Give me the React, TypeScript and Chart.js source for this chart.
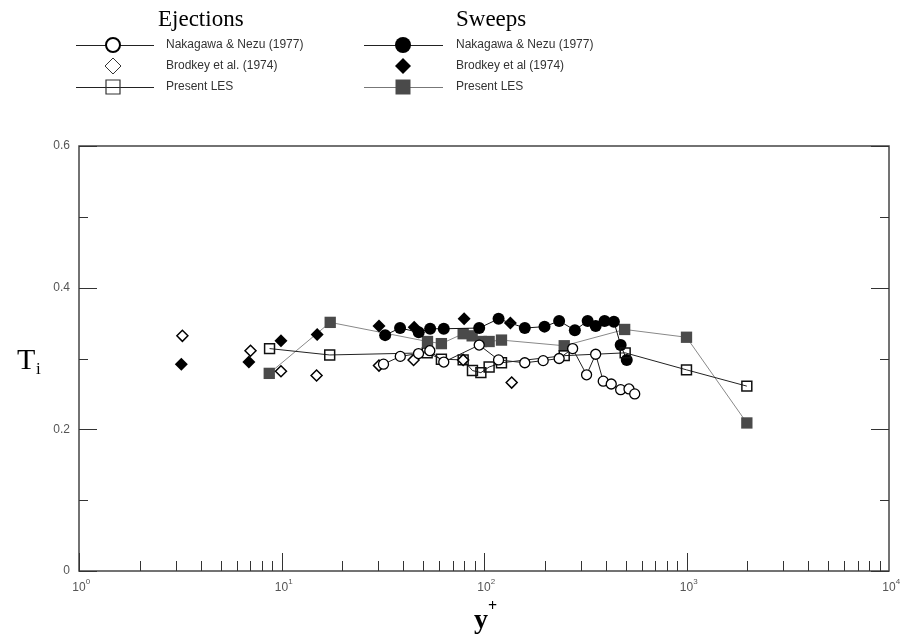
import React, { useEffect, useRef } from "react";
import { Chart, registerables } from "chart.js";
Chart.register(...registerables);

const W = 903;
const H = 637;

// Ejections
const nnEjX = [31.9, 38.6, 47.5, 54, 63.3, 94.7, 118, 159, 196, 235, 274, 321, 356, 388, 425, 473, 520, 555];
const nnEjY = [0.292, 0.303, 0.307, 0.311, 0.295, 0.319, 0.298, 0.294, 0.297, 0.300, 0.314, 0.277, 0.306, 0.268, 0.264, 0.256, 0.257, 0.250];
const brEjX = [3.24, 7.03, 9.94, 14.9, 30.3, 44.9, 78.9, 137];
const brEjY = [0.332, 0.311, 0.282, 0.276, 0.290, 0.298, 0.298, 0.266];
const lesEjX = [8.73, 17.3, 52.4, 61.6, 78.9, 87.7, 96.5, 106, 122, 249, 498, 1000, 1986];
const lesEjY = [0.314, 0.305, 0.308, 0.299, 0.298, 0.283, 0.280, 0.288, 0.294, 0.304, 0.308, 0.284, 0.261];

// Sweeps
const nnSwX = [32.5, 38.5, 47.6, 54.2, 63.3, 94.7, 118, 159, 199, 235, 281, 325, 356, 394, 438, 473, 507];
const nnSwY = [0.333, 0.343, 0.337, 0.342, 0.342, 0.343, 0.356, 0.343, 0.345, 0.353, 0.340, 0.353, 0.346, 0.353, 0.352, 0.319, 0.298];
const brSwX = [3.2, 6.9, 9.94, 15.0, 30.3, 45.2, 79.8, 135];
const brSwY = [0.292, 0.295, 0.325, 0.334, 0.346, 0.344, 0.356, 0.350];
const lesSwX = [8.7, 17.4, 52.6, 61.6, 78.9, 87.4, 97.2, 106, 122, 249, 495, 1000, 1986];
const lesSwY = [0.279, 0.351, 0.324, 0.321, 0.335, 0.332, 0.324, 0.324, 0.326, 0.318, 0.341, 0.330, 0.209];

const xMajor = [1, 10, 100, 1000, 10000];
const xMajorExp = ["0", "1", "2", "3", "4"];
const yMajor = [0, 0.2, 0.4, 0.6];
const yMajorLabels = ["0", "0.2", "0.4", "0.6"];
const yMinor = [0.1, 0.3, 0.5];

const legendTitles = ["Ejections", "Sweeps"];
const legendLabelsEj = ["Nakagawa & Nezu (1977)", "Brodkey et al. (1974)", "Present LES"];
const legendLabelsSw = ["Nakagawa & Nezu (1977)", "Brodkey et al (1974)", "Present LES"];

const pts = (xs: number[], ys: number[]) => xs.map((x, i) => ({ x, y: ys[i] }));

const SANS = "'Liberation Sans', Arial, sans-serif";
const SERIF = "'Liberation Serif', 'Times New Roman', serif";
const LES_FILL = "#4a4a4a";

export default function App() {
  const ref = useRef<HTMLCanvasElement>(null);

  useEffect(() => {
    const drawMarker = (
      ctx: CanvasRenderingContext2D,
      kind: string,
      x: number,
      y: number,
      r: number,
      fill: string | null,
      stroke: string | null,
      lw: number
    ) => {
      ctx.beginPath();
      if (kind === "circle") ctx.arc(x, y, r, 0, Math.PI * 2);
      else if (kind === "diamond") {
        ctx.moveTo(x, y - r);
        ctx.lineTo(x + r, y);
        ctx.lineTo(x, y + r);
        ctx.lineTo(x - r, y);
        ctx.closePath();
      } else ctx.rect(x - r, y - r, 2 * r, 2 * r);
      if (fill) {
        ctx.fillStyle = fill;
        ctx.fill();
      }
      if (stroke) {
        ctx.strokeStyle = stroke;
        ctx.lineWidth = lw;
        ctx.stroke();
      }
    };

    const decor = {
      id: "decor",
      afterDraw(chart: any) {
        const ctx: CanvasRenderingContext2D = chart.ctx;
        const { left, right, top, bottom } = chart.chartArea;
        const xs = chart.scales.x;
        const ys = chart.scales.y;
        ctx.save();

        // frame
        ctx.strokeStyle = "#444";
        ctx.lineWidth = 1.5;
        ctx.strokeRect(left, top, right - left, bottom - top);

        // x ticks (inward)
        ctx.lineWidth = 1;
        ctx.strokeStyle = "#333";
        for (let d = 0; d < 4; d++) {
          for (let m = 1; m <= 9; m++) {
            const v = m * Math.pow(10, d);
            const px = Math.round(xs.getPixelForValue(v)) + 0.5;
            const len = m === 1 ? 18 : 10;
            ctx.beginPath();
            ctx.moveTo(px, bottom);
            ctx.lineTo(px, bottom - len);
            ctx.stroke();
          }
        }
        // y ticks left & right
        const yt = (vals: number[], len: number) => {
          vals.forEach((v) => {
            const py = Math.round(ys.getPixelForValue(v)) + 0.5;
            ctx.beginPath();
            ctx.moveTo(left, py);
            ctx.lineTo(left + len, py);
            ctx.moveTo(right, py);
            ctx.lineTo(right - len, py);
            ctx.stroke();
          });
        };
        yt(yMajor, 18);
        yt(yMinor, 9);

        // x tick labels
        ctx.fillStyle = "#555";
        xMajor.forEach((v, i) => {
          const px = xs.getPixelForValue(v);
          ctx.font = `12px ${SANS}`;
          ctx.textAlign = "center";
          ctx.textBaseline = "alphabetic";
          ctx.fillText("10", px, 591);
          const w = ctx.measureText("10").width;
          ctx.font = `8px ${SANS}`;
          ctx.textAlign = "left";
          ctx.fillText(xMajorExp[i], px + w / 2, 584);
        });
        // y tick labels
        ctx.font = `12px ${SANS}`;
        ctx.textAlign = "right";
        ctx.textBaseline = "middle";
        yMajor.forEach((v, i) => {
          ctx.fillText(yMajorLabels[i], 70, ys.getPixelForValue(v));
        });

        // axis titles
        ctx.fillStyle = "#000";
        ctx.textBaseline = "alphabetic";
        ctx.textAlign = "left";
        ctx.font = `30px ${SERIF}`;
        ctx.fillText("T", 17, 369);
        ctx.font = `17px ${SERIF}`;
        ctx.fillText("i", 36, 374);

        ctx.font = `bold 28px ${SERIF}`;
        ctx.textAlign = "center";
        ctx.fillText("y", 481, 628);
        ctx.font = `bold 16px ${SERIF}`;
        ctx.textAlign = "left";
        ctx.fillText("+", 488, 611);

        // legend
        const rows = [45, 66, 87];
        ctx.font = `23px ${SERIF}`;
        ctx.fillStyle = "#000";
        ctx.fillText(legendTitles[0], 158, 26);
        ctx.fillText(legendTitles[1], 456, 26);
        ctx.font = `12px ${SANS}`;
        ctx.fillStyle = "#333";
        ctx.textBaseline = "middle";
        legendLabelsEj.forEach((t, i) => ctx.fillText(t, 166, rows[i]));
        legendLabelsSw.forEach((t, i) => ctx.fillText(t, 456, rows[i]));

        const line = (x0: number, x1: number, y: number, c: string) => {
          ctx.beginPath();
          ctx.strokeStyle = c;
          ctx.lineWidth = 1;
          ctx.moveTo(x0, y + 0.5);
          ctx.lineTo(x1, y + 0.5);
          ctx.stroke();
        };
        // Ejections
        line(76, 154, rows[0], "#222");
        drawMarker(ctx, "circle", 113, rows[0], 7, "#fff", "#000", 2);
        drawMarker(ctx, "diamond", 113, rows[1], 8, "#fff", "#333", 1);
        line(76, 154, rows[2], "#222");
        drawMarker(ctx, "rect", 113, rows[2], 7, null, "#333", 1.2);
        // Sweeps
        line(364, 443, rows[0], "#222");
        drawMarker(ctx, "circle", 403, rows[0], 8, "#000", null, 0);
        drawMarker(ctx, "diamond", 403, rows[1], 8, "#000", null, 0);
        line(364, 443, rows[2], "#777");
        drawMarker(ctx, "rect", 403, rows[2], 7.5, LES_FILL, null, 0);

        ctx.restore();
      },
    };

    const chart = new Chart(ref.current as HTMLCanvasElement, {
      type: "scatter",
      data: {
        datasets: [
          {
            label: "Nakagawa & Nezu (1977) ejections",
            data: pts(nnEjX, nnEjY),
            showLine: true,
            borderColor: "#222",
            borderWidth: 1,
            pointStyle: "circle",
            pointRadius: 5,
            pointBackgroundColor: "#fff",
            pointBorderColor: "#000",
            pointBorderWidth: 1.3,
          },
          {
            label: "Brodkey et al. (1974) ejections",
            data: pts(brEjX, brEjY),
            showLine: false,
            pointStyle: "rectRot",
            pointRadius: 5.5,
            pointBackgroundColor: "#fff",
            pointBorderColor: "#000",
            pointBorderWidth: 1.5,
          },
          {
            label: "Present LES ejections",
            data: pts(lesEjX, lesEjY),
            showLine: true,
            borderColor: "#222",
            borderWidth: 1,
            pointStyle: "rect",
            pointRadius: 7,
            pointBackgroundColor: "rgba(255,255,255,0)",
            pointBorderColor: "#111",
            pointBorderWidth: 1.5,
          },
          {
            label: "Nakagawa & Nezu (1977) sweeps",
            data: pts(nnSwX, nnSwY),
            showLine: true,
            borderColor: "#111",
            borderWidth: 1,
            pointStyle: "circle",
            pointRadius: 6,
            pointBackgroundColor: "#000",
            pointBorderColor: "#000",
            pointBorderWidth: 0,
          },
          {
            label: "Brodkey et al (1974) sweeps",
            data: pts(brSwX, brSwY),
            showLine: false,
            pointStyle: "rectRot",
            pointRadius: 6.5,
            pointBackgroundColor: "#000",
            pointBorderColor: "#000",
            pointBorderWidth: 0,
          },
          {
            label: "Present LES sweeps",
            data: pts(lesSwX, lesSwY),
            showLine: true,
            borderColor: "#888",
            borderWidth: 1,
            pointStyle: "rect",
            pointRadius: 8,
            pointBackgroundColor: LES_FILL,
            pointBorderColor: LES_FILL,
            pointBorderWidth: 0,
          },
        ],
      },
      options: {
        responsive: false,
        animation: false,
        devicePixelRatio: 1,
        layout: { padding: { left: 79, right: 14, top: 146, bottom: 66 } },
        plugins: {
          legend: { display: false },
          tooltip: { enabled: false },
          title: { display: false },
        },
        scales: {
          x: { type: "logarithmic", min: 1, max: 10000, display: false },
          y: { type: "linear", min: 0, max: 0.6, display: false },
        },
      },
      plugins: [decor],
    });
    return () => chart.destroy();
  }, []);

  return (
    <div style={{ position: "fixed", left: 0, top: 0, width: W, height: H, background: "#fff" }}>
      <canvas ref={ref} width={W} height={H} style={{ display: "block", width: W, height: H }} />
    </div>
  );
}
